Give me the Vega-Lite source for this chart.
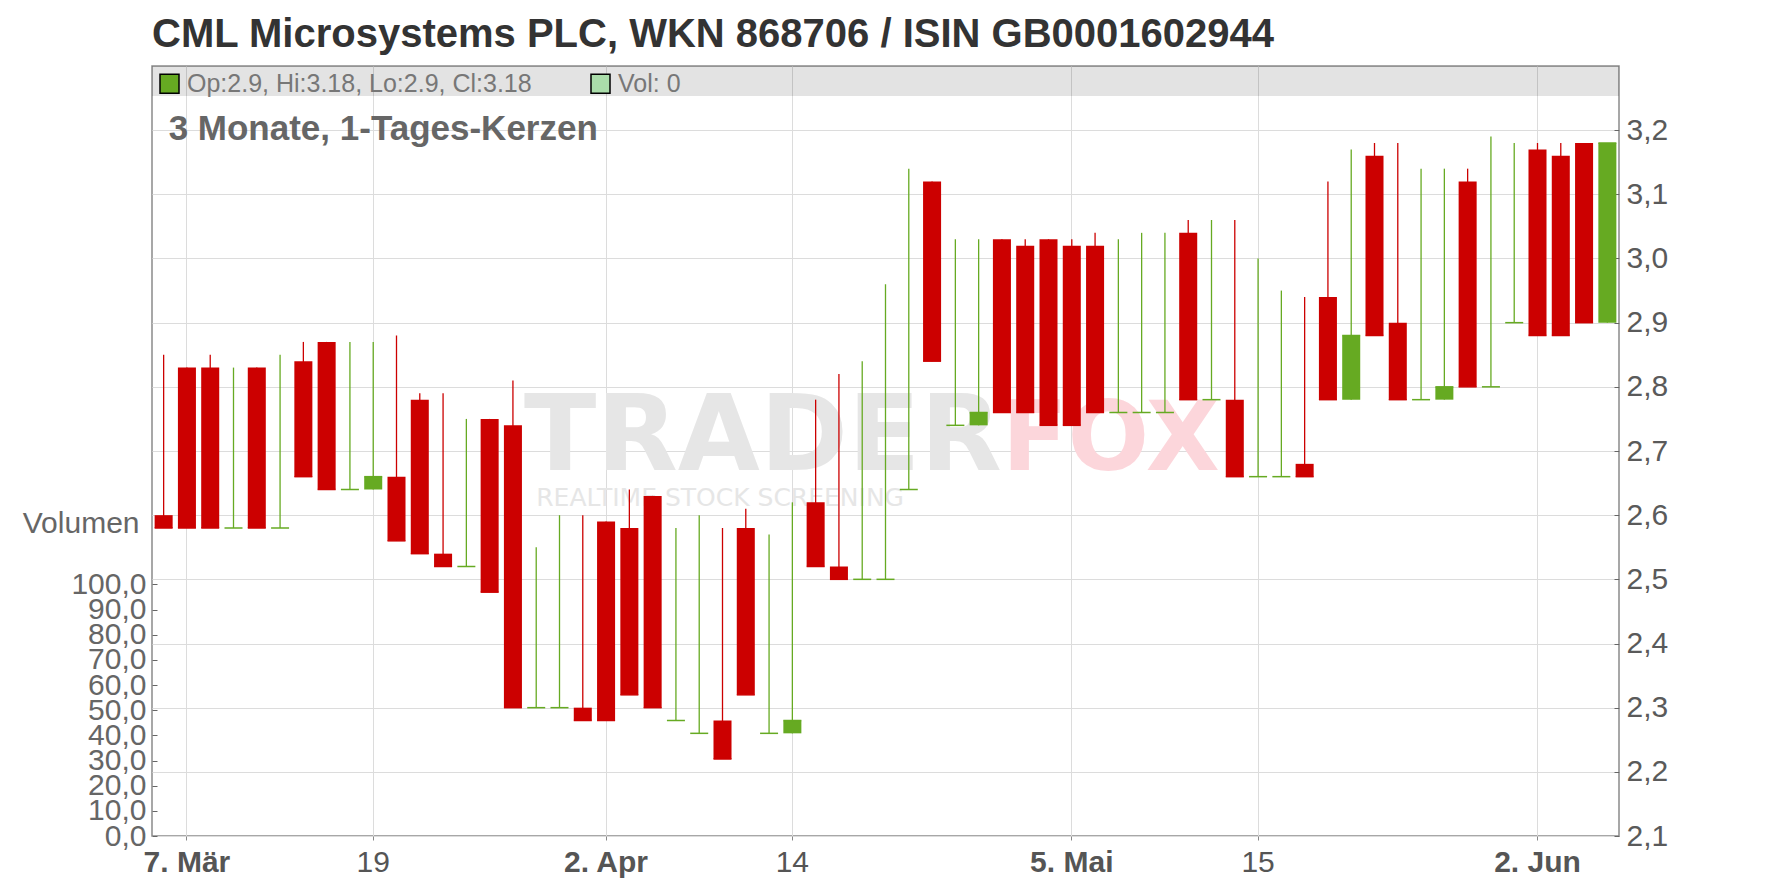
{
  "$schema": "https://vega.github.io/schema/vega-lite/v6.json",
  "width": 1467,
  "height": 770,
  "autosize": {"type": "none"},
  "padding": {"left": 152, "top": 66, "right": 157, "bottom": 52},
  "background": "white",
  "title": {"text": "CML Microsystems PLC, WKN 868706 / ISIN GB0001602944", "anchor": "start", "frame": "group", "fontSize": 40, "fontWeight": "bold", "color": "#333333", "font": "Liberation Sans", "baseline": "alphabetic", "offset": -21},
  "config": {
    "font": "Liberation Sans",
    "locale": {"number": {"decimal": ",", "thousands": ".", "grouping": [3], "currency": ["", " €"]}},
    "view": {"stroke": "#8a8a8a", "strokeWidth": 1.5}
  },
  "data": {"values": [
    {"date": "2014-03-06", "open": 2.60, "high": 2.85, "low": 2.58, "close": 2.58, "vol": 0},
    {"date": "2014-03-07", "open": 2.83, "high": 2.83, "low": 2.58, "close": 2.58, "vol": 0},
    {"date": "2014-03-10", "open": 2.83, "high": 2.85, "low": 2.58, "close": 2.58, "vol": 0},
    {"date": "2014-03-11", "open": 2.58, "high": 2.83, "low": 2.58, "close": 2.58, "vol": 0},
    {"date": "2014-03-12", "open": 2.83, "high": 2.83, "low": 2.58, "close": 2.58, "vol": 0},
    {"date": "2014-03-13", "open": 2.58, "high": 2.85, "low": 2.58, "close": 2.58, "vol": 0},
    {"date": "2014-03-14", "open": 2.84, "high": 2.87, "low": 2.66, "close": 2.66, "vol": 0},
    {"date": "2014-03-17", "open": 2.87, "high": 2.87, "low": 2.64, "close": 2.64, "vol": 0},
    {"date": "2014-03-18", "open": 2.64, "high": 2.87, "low": 2.64, "close": 2.64, "vol": 0},
    {"date": "2014-03-19", "open": 2.64, "high": 2.87, "low": 2.64, "close": 2.66, "vol": 0},
    {"date": "2014-03-20", "open": 2.66, "high": 2.88, "low": 2.56, "close": 2.56, "vol": 0},
    {"date": "2014-03-21", "open": 2.78, "high": 2.79, "low": 2.54, "close": 2.54, "vol": 0},
    {"date": "2014-03-24", "open": 2.54, "high": 2.79, "low": 2.52, "close": 2.52, "vol": 0},
    {"date": "2014-03-25", "open": 2.52, "high": 2.75, "low": 2.52, "close": 2.52, "vol": 0},
    {"date": "2014-03-26", "open": 2.75, "high": 2.75, "low": 2.48, "close": 2.48, "vol": 0},
    {"date": "2014-03-27", "open": 2.74, "high": 2.81, "low": 2.30, "close": 2.30, "vol": 0},
    {"date": "2014-03-28", "open": 2.30, "high": 2.55, "low": 2.30, "close": 2.30, "vol": 0},
    {"date": "2014-03-31", "open": 2.30, "high": 2.60, "low": 2.30, "close": 2.30, "vol": 0},
    {"date": "2014-04-01", "open": 2.30, "high": 2.60, "low": 2.28, "close": 2.28, "vol": 0},
    {"date": "2014-04-02", "open": 2.59, "high": 2.59, "low": 2.28, "close": 2.28, "vol": 0},
    {"date": "2014-04-03", "open": 2.58, "high": 2.64, "low": 2.32, "close": 2.32, "vol": 0},
    {"date": "2014-04-04", "open": 2.63, "high": 2.63, "low": 2.30, "close": 2.30, "vol": 0},
    {"date": "2014-04-07", "open": 2.28, "high": 2.58, "low": 2.28, "close": 2.28, "vol": 0},
    {"date": "2014-04-08", "open": 2.26, "high": 2.60, "low": 2.26, "close": 2.26, "vol": 0},
    {"date": "2014-04-09", "open": 2.28, "high": 2.58, "low": 2.22, "close": 2.22, "vol": 0},
    {"date": "2014-04-10", "open": 2.58, "high": 2.61, "low": 2.32, "close": 2.32, "vol": 0},
    {"date": "2014-04-11", "open": 2.26, "high": 2.57, "low": 2.26, "close": 2.26, "vol": 0},
    {"date": "2014-04-14", "open": 2.26, "high": 2.62, "low": 2.26, "close": 2.28, "vol": 0},
    {"date": "2014-04-15", "open": 2.62, "high": 2.78, "low": 2.52, "close": 2.52, "vol": 0},
    {"date": "2014-04-16", "open": 2.52, "high": 2.82, "low": 2.50, "close": 2.50, "vol": 0},
    {"date": "2014-04-17", "open": 2.50, "high": 2.84, "low": 2.50, "close": 2.50, "vol": 0},
    {"date": "2014-04-22", "open": 2.50, "high": 2.96, "low": 2.50, "close": 2.50, "vol": 0},
    {"date": "2014-04-23", "open": 2.64, "high": 3.14, "low": 2.64, "close": 2.64, "vol": 0},
    {"date": "2014-04-24", "open": 3.12, "high": 3.12, "low": 2.84, "close": 2.84, "vol": 0},
    {"date": "2014-04-25", "open": 2.74, "high": 3.03, "low": 2.74, "close": 2.74, "vol": 0},
    {"date": "2014-04-28", "open": 2.74, "high": 3.03, "low": 2.74, "close": 2.76, "vol": 0},
    {"date": "2014-04-29", "open": 3.03, "high": 3.03, "low": 2.76, "close": 2.76, "vol": 0},
    {"date": "2014-04-30", "open": 3.02, "high": 3.03, "low": 2.76, "close": 2.76, "vol": 0},
    {"date": "2014-05-02", "open": 3.03, "high": 3.03, "low": 2.74, "close": 2.74, "vol": 0},
    {"date": "2014-05-05", "open": 3.02, "high": 3.03, "low": 2.74, "close": 2.74, "vol": 0},
    {"date": "2014-05-06", "open": 3.02, "high": 3.04, "low": 2.76, "close": 2.76, "vol": 0},
    {"date": "2014-05-07", "open": 2.76, "high": 3.03, "low": 2.76, "close": 2.76, "vol": 0},
    {"date": "2014-05-08", "open": 2.76, "high": 3.04, "low": 2.76, "close": 2.76, "vol": 0},
    {"date": "2014-05-09", "open": 2.76, "high": 3.04, "low": 2.76, "close": 2.76, "vol": 0},
    {"date": "2014-05-12", "open": 3.04, "high": 3.06, "low": 2.78, "close": 2.78, "vol": 0},
    {"date": "2014-05-13", "open": 2.78, "high": 3.06, "low": 2.78, "close": 2.78, "vol": 0},
    {"date": "2014-05-14", "open": 2.78, "high": 3.06, "low": 2.66, "close": 2.66, "vol": 0},
    {"date": "2014-05-15", "open": 2.66, "high": 3.00, "low": 2.66, "close": 2.66, "vol": 0},
    {"date": "2014-05-16", "open": 2.66, "high": 2.95, "low": 2.66, "close": 2.66, "vol": 0},
    {"date": "2014-05-19", "open": 2.68, "high": 2.94, "low": 2.66, "close": 2.66, "vol": 0},
    {"date": "2014-05-20", "open": 2.94, "high": 3.12, "low": 2.78, "close": 2.78, "vol": 0},
    {"date": "2014-05-21", "open": 2.78, "high": 3.17, "low": 2.78, "close": 2.88, "vol": 0},
    {"date": "2014-05-22", "open": 3.16, "high": 3.18, "low": 2.88, "close": 2.88, "vol": 0},
    {"date": "2014-05-23", "open": 2.90, "high": 3.18, "low": 2.78, "close": 2.78, "vol": 0},
    {"date": "2014-05-26", "open": 2.78, "high": 3.14, "low": 2.78, "close": 2.78, "vol": 0},
    {"date": "2014-05-27", "open": 2.78, "high": 3.14, "low": 2.78, "close": 2.80, "vol": 0},
    {"date": "2014-05-28", "open": 3.12, "high": 3.14, "low": 2.80, "close": 2.80, "vol": 0},
    {"date": "2014-05-29", "open": 2.80, "high": 3.19, "low": 2.80, "close": 2.80, "vol": 0},
    {"date": "2014-05-30", "open": 2.90, "high": 3.18, "low": 2.90, "close": 2.90, "vol": 0},
    {"date": "2014-06-02", "open": 3.17, "high": 3.18, "low": 2.88, "close": 2.88, "vol": 0},
    {"date": "2014-06-03", "open": 3.16, "high": 3.18, "low": 2.88, "close": 2.88, "vol": 0},
    {"date": "2014-06-04", "open": 3.18, "high": 3.18, "low": 2.90, "close": 2.90, "vol": 0},
    {"date": "2014-06-05", "open": 2.90, "high": 3.18, "low": 2.90, "close": 3.18, "vol": 0}
  ]},
  "layer": [
    {
      "mark": {"type": "bar"},
      "encoding": {
        "x": {"field": "date", "type": "ordinal", "scale": {"type": "band", "paddingInner": 0.226, "paddingOuter": 0.113},
          "axis": {"values": ["2014-03-07", "2014-03-19", "2014-04-02", "2014-04-14", "2014-05-05", "2014-05-15", "2014-06-02"],
            "labelExpr": "utcdate(toDate(datum.value)) <= 7 ? utcdate(toDate(datum.value)) + '. ' + ['Jan','Feb','Mär','Apr','Mai','Jun','Jul','Aug','Sep','Okt','Nov','Dez'][utcmonth(toDate(datum.value))] : '' + utcdate(toDate(datum.value))",
            "labelFontSize": 30, "labelColor": "#555555",
            "labelFontWeight": {"condition": {"test": "utcdate(toDate(datum.value)) <= 7", "value": "bold"}, "value": "normal"},
            "labelAngle": 0, "labelBaseline": "alphabetic", "labelPadding": 31, "tickSize": 4, "tickColor": "#888888",
            "domain": false, "grid": true, "gridColor": "#dcdcdc", "gridWidth": 1, "title": null, "labelOverlap": false, "labelFlush": false}},
        "y": {"field": "vol", "type": "quantitative", "scale": {"domain": [0, 306], "nice": false, "zero": true},
          "axis": {"orient": "left", "values": [0, 10, 20, 30, 40, 50, 60, 70, 80, 90, 100], "format": ".1f", "grid": false, "domain": false,
            "tickSize": -5, "tickColor": "#666666", "labelPadding": 11, "labelFontSize": 30, "labelColor": "#666666", "labelOverlap": false,
            "title": "Volumen", "titleAngle": 0, "titleAlign": "right", "titleBaseline": "alphabetic", "titleX": -13, "titleY": 466,
            "titleFontSize": 30, "titleFontWeight": "normal", "titleColor": "#666666"}},
        "color": {"datum": "Vol: 0", "type": "nominal",
          "scale": {"domain": ["Op:2.9, Hi:3.18, Lo:2.9, Cl:3.18", "Vol: 0"], "range": ["#66aa22", "#aaddaa"]},
          "legend": {"title": null, "orient": "none", "legendX": 5, "legendY": 5, "direction": "horizontal", "symbolType": "square",
            "symbolSize": 361, "symbolStrokeColor": "#000000", "symbolStrokeWidth": 1.5, "labelFontSize": 25, "labelColor": "#777777",
            "labelOffset": 5, "columnPadding": 56, "padding": 0, "labelLimit": 600, "symbolOpacity": 1,
            "encode": {"symbols": {"update": {"stroke": {"value": "#000000"}, "strokeWidth": {"value": 1.5}}}}}}
      }
    },
    {
      "layer": [
        {
          "data": {"values": [{}]},
          "mark": {"type": "rect", "color": "#000000", "opacity": 0.11},
          "encoding": {
            "y": {"datum": 3.3, "type": "quantitative", "scale": {"domain": [2.1, 3.3], "nice": false, "zero": false}},
            "y2": {"datum": 3.2532}
          }
        },
        {
          "data": {"values": [{}]},
          "mark": {"type": "text", "text": "TRADER", "align": "right", "baseline": "alphabetic", "font": "DejaVu Sans", "fontWeight": "bold", "fontSize": 106, "color": "#e6e6e6"},
          "encoding": {"x": {"datum": "2014-04-29", "type": "ordinal"}, "y": {"datum": 2.6705, "type": "quantitative"}}
        },
        {
          "data": {"values": [{}]},
          "mark": {"type": "text", "text": "FOX", "align": "left", "baseline": "alphabetic", "font": "DejaVu Sans", "fontWeight": "bold", "fontSize": 96, "color": "#fcd6db"},
          "encoding": {"x": {"datum": "2014-04-29", "type": "ordinal"}, "y": {"datum": 2.6705, "type": "quantitative"}}
        },
        {
          "data": {"values": [{}]},
          "mark": {"type": "text", "text": "REALTIME STOCK SCREENING", "align": "left", "baseline": "alphabetic", "font": "DejaVu Sans", "fontSize": 25, "color": "#e6e6e6"},
          "encoding": {"x": {"datum": "2014-03-28", "type": "ordinal"}, "y": {"datum": 2.6145, "type": "quantitative"}}
        },
        {
          "mark": {"type": "rule", "strokeWidth": 1.3},
          "encoding": {
            "x": {"field": "date", "type": "ordinal"},
            "y": {"field": "low", "type": "quantitative", "scale": {"domain": [2.1, 3.3], "nice": false, "zero": false},
              "axis": {"orient": "right", "values": [2.1, 2.2, 2.3, 2.4, 2.5, 2.6, 2.7, 2.8, 2.9, 3.0, 3.1, 3.2], "format": ".1f", "grid": true,
                "gridColor": "#dcdcdc", "domain": false, "tickSize": -5, "tickColor": "#666666", "labelPadding": 12, "labelFontSize": 30,
                "labelColor": "#5a5a5a", "title": null, "labelOverlap": false}},
            "y2": {"field": "high"},
            "color": {"condition": {"test": "datum.close < datum.open", "value": "#cc0000"}, "value": "#66aa22"}
          }
        },
        {
          "mark": {"type": "bar"},
          "encoding": {
            "x": {"field": "date", "type": "ordinal"},
            "y": {"field": "open", "type": "quantitative"},
            "y2": {"field": "close"},
            "color": {"condition": {"test": "datum.close < datum.open", "value": "#cc0000"}, "value": "#66aa22"}
          }
        },
        {
          "mark": {"type": "tick", "size": 18, "thickness": 1.5, "opacity": 1},
          "encoding": {
            "x": {"field": "date", "type": "ordinal"},
            "y": {"field": "close", "type": "quantitative"},
            "color": {"condition": {"test": "datum.close < datum.open", "value": "#cc0000"}, "value": "#66aa22"}
          }
        },
        {
          "data": {"values": [{}]},
          "mark": {"type": "text", "text": "3 Monate, 1-Tages-Kerzen", "align": "left", "baseline": "alphabetic", "fontSize": 35, "fontWeight": "bold", "color": "#666666", "dx": 5},
          "encoding": {"x": {"datum": "2014-03-06", "type": "ordinal"}, "y": {"datum": 3.184, "type": "quantitative"}}
        }
      ]
    }
  ],
  "resolve": {"scale": {"y": "independent"}, "axis": {"y": "independent"}}
}
